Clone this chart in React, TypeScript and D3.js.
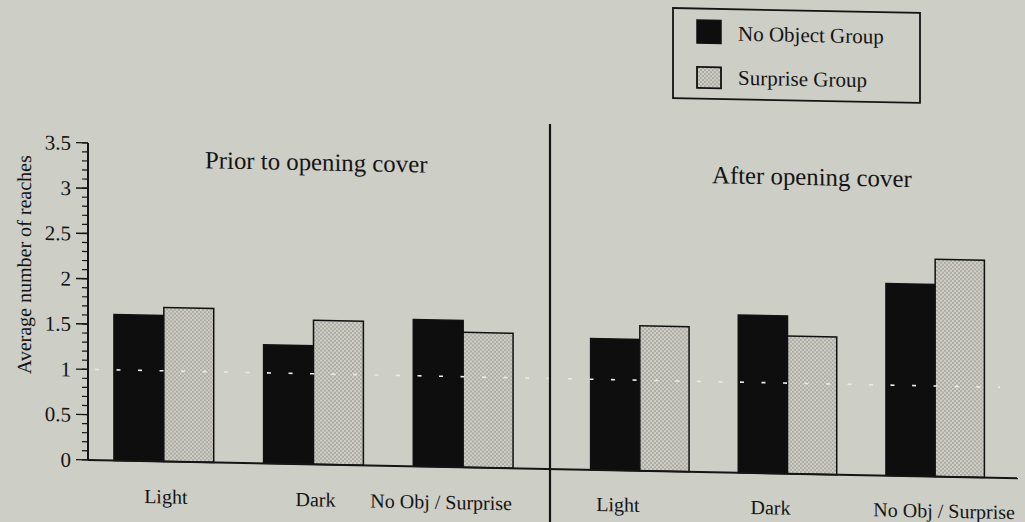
import React from "react";
import * as d3 from "d3";

const categories = ["Light", "Dark", "No Obj / Surprise"];
const panelTitles = ["Prior to opening cover", "After opening cover"];
const seriesNames = ["No Object Group", "Surprise Group"];
const noObjectPrior = [1.61, 1.31, 1.62];
const surprisePrior = [1.7, 1.59, 1.49];
const noObjectAfter = [1.45, 1.74, 2.12];
const surpriseAfter = [1.6, 1.52, 2.4];
const chanceLevel = 1;
const yMajorTicks = [0, 0.5, 1, 1.5, 2, 2.5, 3, 3.5];
const yTitle = "Average number of reaches";

const W = 1025;
const H = 522;
const FONT = "'Liberation Serif', 'Times New Roman', Times, serif";
const BG = "#cdcec5";
const INK = "#141414";
const SKEW_X0 = 550;
const SKEW_DEG = (Math.atan(0.0197) * 180) / Math.PI;

export default function App() {
  const y = d3.scaleLinear().domain([0, 3.5]).range([469, 152]);
  const axisX = 88;
  const dividerX = 550;

  const panelRanges: [number, number][] = [
    [89, 538],
    [566, 1009],
  ];
  const panelData = [
    [noObjectPrior, surprisePrior],
    [noObjectAfter, surpriseAfter],
  ];
  const labelNudge = [
    [2, 2, -22],
    [-22, -17, 9],
  ];
  const titlePos = [
    { x: 205, y: 175 },
    { x: 712, y: 180 },
  ];

  const minorTicks = d3.range(0, 36).map((i) => i / 10);
  const txt = { fontFamily: FONT };

  return (
    <svg
      width={W}
      height={H}
      viewBox={`0 0 ${W} ${H}`}
      style={{ position: "absolute", left: 0, top: 0, display: "block", fontFamily: FONT }}
    >
      <defs>
        <pattern id="stipple" width="4" height="4" patternUnits="userSpaceOnUse">
          <rect width="4" height="4" fill="#a9a9a2" />
          <rect x="0" y="0" width="2" height="2" fill="#d2d2ca" />
          <rect x="2" y="2" width="2" height="2" fill="#d2d2ca" />
        </pattern>
      </defs>
      <rect width={W} height={H} fill={BG} />
      <g
        transform={`translate(${SKEW_X0},0) skewY(${SKEW_DEG}) translate(${-SKEW_X0},0)`}
        fill={INK}
      >
        {panelRanges.map((range, p) => {
          const x0 = d3
            .scaleBand<string>()
            .domain(categories)
            .range(range)
            .paddingInner(1 / 3)
            .paddingOuter(1 / 6);
          const x1 = d3
            .scaleBand<string>()
            .domain(seriesNames)
            .range([0, x0.bandwidth()]);
          return (
            <g key={p}>
              {categories.map((c, ci) =>
                seriesNames.map((s, si) => {
                  const v = panelData[p][si][ci];
                  const bx = (x0(c) ?? 0) + (x1(s) ?? 0);
                  return (
                    <rect
                      key={c + s}
                      x={bx}
                      y={y(v)}
                      width={x1.bandwidth()}
                      height={y(0) - y(v)}
                      fill={si === 0 ? "#0e0e0e" : "url(#stipple)"}
                      stroke="#111"
                      strokeWidth={1.5}
                    />
                  );
                })
              )}
              {categories.map((c, ci) => (
                <text
                  key={"l" + c}
                  x={(x0(c) ?? 0) + x0.bandwidth() / 2 + labelNudge[p][ci]}
                  y={p === 0 ? 511 : 510}
                  textAnchor="middle"
                  fontSize={20}
                  style={txt}
                >
                  {c}
                </text>
              ))}
              <text
                x={titlePos[p].x}
                y={titlePos[p].y}
                fontSize={24.8}
                textAnchor="start"
                style={txt}
              >
                {panelTitles[p]}
              </text>
            </g>
          );
        })}

        <line
          x1={95}
          x2={1000}
          y1={y(chanceLevel)}
          y2={y(chanceLevel)}
          stroke="#ecece6"
          strokeWidth={1.6}
          strokeDasharray="4 17.5"
        />

        <line x1={axisX} x2={1018} y1={y(0)} y2={y(0)} stroke={INK} strokeWidth={2} />
        <line x1={axisX} x2={axisX} y1={y(0)} y2={y(3.5)} stroke={INK} strokeWidth={2} />
        {minorTicks.map((t) => (
          <line
            key={"m" + t}
            x1={axisX - 6}
            x2={axisX}
            y1={y(t)}
            y2={y(t)}
            stroke={INK}
            strokeWidth={1.2}
          />
        ))}
        {yMajorTicks.map((t) => (
          <g key={"t" + t}>
            <line x1={axisX - 12} x2={axisX} y1={y(t)} y2={y(t)} stroke={INK} strokeWidth={1.4} />
            <text x={71} y={y(t)} dy="0.35em" textAnchor="end" fontSize={21} style={txt}>
              {String(t)}
            </text>
          </g>
        ))}
        <text
          transform={`translate(31,275) rotate(-90)`}
          textAnchor="middle"
          fontSize={20}
          style={txt}
        >
          {yTitle}
        </text>

        <line x1={dividerX} x2={dividerX} y1={124} y2={H + 20} stroke={INK} strokeWidth={2.2} />

        <rect x={673} y={5.6} width={247} height={90} fill="none" stroke={INK} strokeWidth={1.8} />
        <rect x={697} y={17} width={24} height={23} fill="#0e0e0e" stroke="#111" strokeWidth={1.5} />
        <rect x={697} y={64} width={24} height={21} fill="url(#stipple)" stroke="#111" strokeWidth={1.8} />
        <text x={738} y={37} fontSize={21} style={txt}>
          {seriesNames[0]}
        </text>
        <text x={738} y={81} fontSize={21} style={txt}>
          {seriesNames[1]}
        </text>
      </g>
    </svg>
  );
}
